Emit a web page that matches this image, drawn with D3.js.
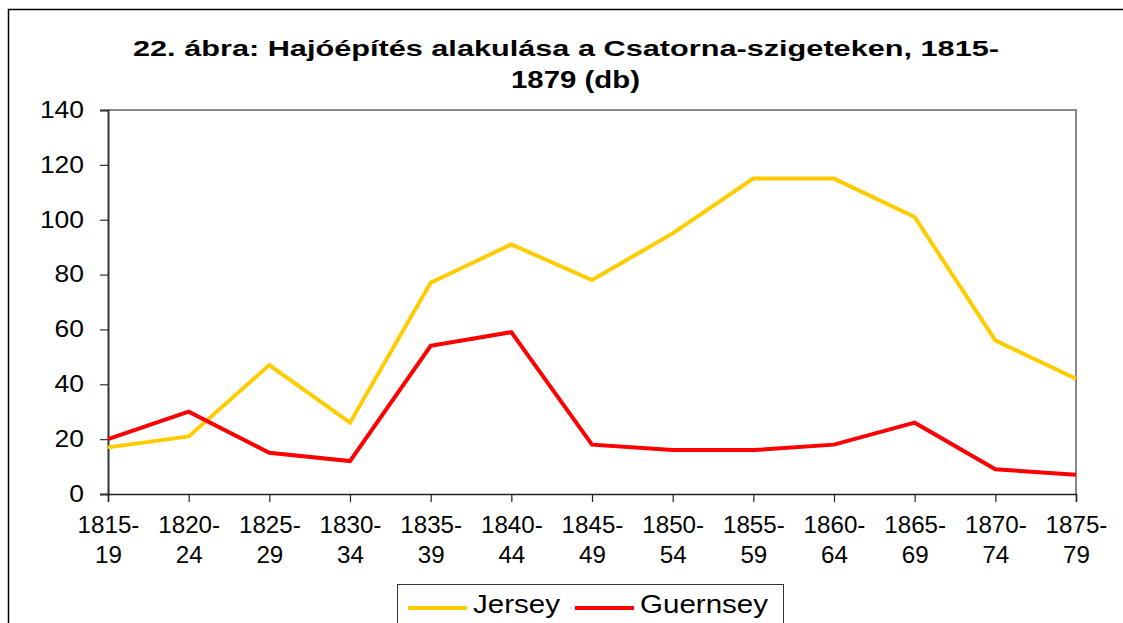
<!DOCTYPE html>
<html><head><meta charset="utf-8">
<script src="https://cdn.jsdelivr.net/npm/d3@7"></script>
<style>
html,body{margin:0;padding:0;background:#fff;}
svg{display:block;font-family:"Liberation Sans",Arial,sans-serif;}
</style></head>
<body>
<svg id="chart" width="1123" height="623"></svg>
<script>
const categories = ["1815-19","1820-24","1825-29","1830-34","1835-39","1840-44","1845-49","1850-54","1855-59","1860-64","1865-69","1870-74","1875-79"];
const jersey = [17,21,47,26,77,91,78,95,115,115,101,56,42];
const guernsey = [20,30,15,12,54,59,18,16,16,18,26,9,7];
const yTicks = [0,20,40,60,80,100,120,140];
const titleLines = ["22. ábra: Hajóépítés alakulása a Csatorna-szigeteken, 1815-","1879 (db)"];
const seriesNames = ["Jersey","Guernsey"];
const seriesColors = ["#FFCC00","#FF0000"];

const svg = d3.select("#chart");
const L = 108, R = 1076, T = 110, B = 494;
const SXY = 1.15; // horizontal stretch of y labels
const SXX = 1.05; // horizontal stretch of x labels

// outer frame
svg.append("path").attr("d","M8.5,623 V9.5 H1123").attr("fill","none").attr("stroke","#000").attr("stroke-width",1.5);

// title
svg.append("text").attr("x",566).attr("y",56).attr("text-anchor","middle")
  .attr("font-size",22.5).attr("font-weight","bold").attr("textLength",866).attr("lengthAdjust","spacingAndGlyphs")
  .text(titleLines[0]);
svg.append("text").attr("x",575.5).attr("y",88).attr("text-anchor","middle")
  .attr("font-size",23).attr("font-weight","bold").attr("textLength",129).attr("lengthAdjust","spacingAndGlyphs")
  .text(titleLines[1]);

const x = d3.scalePoint().domain(categories).range([L,R]).padding(0);
const y = d3.scaleLinear().domain([0,140]).range([B,T]);

// plot border top/right
svg.append("path").attr("d",`M${L},${T} H${R} V${B}`).attr("fill","none").attr("stroke","#888").attr("stroke-width",2);

// y axis
const yAxis = svg.append("g").attr("transform",`translate(${L},0)`)
  .call(d3.axisLeft(y).tickValues(yTicks).tickSize(8).tickPadding(16));
yAxis.select(".domain").attr("stroke","#333").attr("stroke-width",2);
yAxis.selectAll(".tick line").attr("stroke","#333").attr("stroke-width",1.2);
yAxis.selectAll(".tick text").attr("font-size",23).attr("fill","#000")
  .attr("font-family","Liberation Sans, Arial, sans-serif")
  .attr("x",-24/SXY).attr("transform",`scale(${SXY},1)`);

// x axis
const xAxis = svg.append("g").attr("transform",`translate(0,${B})`)
  .call(d3.axisBottom(x).tickSize(8).tickFormat(""));
xAxis.select(".domain").attr("stroke","#222").attr("stroke-width",1.5);
xAxis.selectAll(".tick line").attr("stroke","#222").attr("stroke-width",1.2);
xAxis.selectAll(".tick").each(function(d){
  const parts = d.split("-");
  const t = d3.select(this).append("text").attr("fill","#000").attr("font-size",23)
    .attr("text-anchor","middle").attr("font-family","Liberation Sans, Arial, sans-serif")
    .attr("transform",`scale(${SXX},1)`);
  t.append("tspan").attr("x",0).attr("y",39).text(parts[0]+"-");
  t.append("tspan").attr("x",0).attr("y",69).text(parts[1]);
});

// lines
const line = d3.line().x((d,i)=>x(categories[i])).y(d=>y(d));
[jersey, guernsey].forEach((s,k)=>{
  svg.append("path").datum(s).attr("d",line).attr("fill","none")
    .attr("stroke",seriesColors[k]).attr("stroke-width",4).attr("stroke-linejoin","miter");
});

// legend
const lg = svg.append("g");
lg.append("rect").attr("x",397.5).attr("y",584.5).attr("width",386).attr("height",60)
  .attr("fill","#fff").attr("stroke","#333").attr("stroke-width",1);
const legendPos = [{x1:408,x2:467,tx:473,w:87},{x1:575,x2:634,tx:640,w:128}];
seriesNames.forEach((n,k)=>{
  lg.append("line").attr("x1",legendPos[k].x1).attr("x2",legendPos[k].x2).attr("y1",608).attr("y2",608)
    .attr("stroke",seriesColors[k]).attr("stroke-width",4);
  lg.append("text").attr("x",legendPos[k].tx).attr("y",613).attr("font-size",25).attr("fill","#000")
    .attr("textLength",legendPos[k].w).attr("lengthAdjust","spacingAndGlyphs").text(n);
});
</script>
</body></html>
